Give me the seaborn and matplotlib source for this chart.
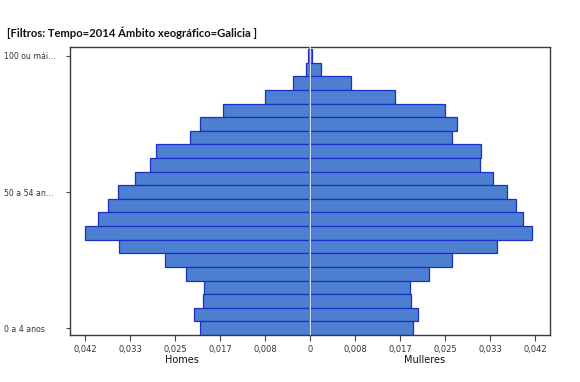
import matplotlib
matplotlib.use("Agg")
import matplotlib.pyplot as plt
import seaborn as sns
import pandas as pd
import numpy as np

sns.set_theme(style="white")
plt.rcParams['font.family'] = ['DejaVu Sans']

# Age groups (top to bottom)
ages = ["100 ou máis", "95 a 99 anos", "90 a 94 anos", "85 a 89 anos", "80 a 84 anos",
        "75 a 79 anos", "70 a 74 anos", "65 a 69 anos", "60 a 64 anos", "55 a 59 anos",
        "50 a 54 anos", "45 a 49 anos", "40 a 44 anos", "35 a 39 anos", "30 a 34 anos",
        "25 a 29 anos", "20 a 24 anos", "15 a 19 anos", "10 a 14 anos", "5 a 9 anos",
        "0 a 4 anos"]
homes = [0.0003, 0.0007, 0.0031, 0.0083, 0.0162, 0.0203, 0.0222, 0.0286, 0.0296, 0.0325,
         0.0355, 0.0375, 0.0392, 0.0416, 0.0353, 0.0268, 0.0229, 0.0196, 0.0199, 0.0214,
         0.0203]
mulleres = [0.0004, 0.0021, 0.0075, 0.0157, 0.0250, 0.0272, 0.0263, 0.0316, 0.0314, 0.0338,
            0.0364, 0.0381, 0.0394, 0.0411, 0.0346, 0.0263, 0.0220, 0.0185, 0.0187, 0.0200,
            0.0190]
shown_labels = {"100 ou máis": "100 ou mái...", "50 a 54 anos": "50 a 54 an...",
                "0 a 4 anos": "0 a 4 anos"}
tick_vals = [5/120, 4/120, 3/120, 2/120, 1/120, 0]
tick_text = ["0,042", "0,033", "0,025", "0,017", "0,008", "0"]
right_text = ["0,008", "0,017", "0,025", "0,033", "0,042"]
title = "[Filtros: Tempo=2014 Ámbito xeográfico=Galicia ]"

df = pd.DataFrame({"idade": ages, "Homes": homes, "Mulleres": mulleres})
df["Homes_neg"] = -df["Homes"]

fig = plt.figure(figsize=(5.8, 3.82), dpi=100)
ax = fig.add_axes([70/580, 1-335/382, 480/580, 288/382])

fill = "#4d80d1"
edge = "#1c2fc4"
sns.barplot(data=df, x="Homes_neg", y="idade", order=ages, orient="h", color=fill,
            edgecolor=edge, linewidth=0.9, width=1.0, saturation=1, ax=ax)
sns.barplot(data=df, x="Mulleres", y="idade", order=ages, orient="h", color=fill,
            edgecolor=edge, linewidth=0.9, width=1.0, saturation=1, ax=ax)

ax.axvline(0, color="white", lw=1.2, zorder=5)
ax.axvline(-0.00012, color="#5a6a8a", lw=0.6, zorder=5)

ax.set_xlim(-240/5400, 240/5400)
ax.set_ylim(20.5, -0.65)

xt = [-v for v in tick_vals] + [v for v in tick_vals[-2::-1]]
xl = tick_text + right_text
ax.set_xticks(xt)
ax.set_xticklabels(xl, fontsize=6, color="#333333")

pos = [ages.index(k) for k in shown_labels]
ax.set_yticks(pos)
ax.set_yticklabels(list(shown_labels.values()), fontsize=5.6, color="#333333", ha="left")
ax.tick_params(axis="y", length=3, width=0.8, color="#444444", pad=44.5, left=True)
ax.tick_params(axis="x", length=4, width=0.8, color="#444444", pad=3, bottom=True)
ax.set_xlabel("")
ax.set_ylabel("")
for s in ax.spines.values():
    s.set_color("#3a3a3a")
    s.set_linewidth(1.0)
    s.set_visible(True)

fig.text(182/580, 1-360/382, "Homes", ha="center", va="center", fontsize=7, color="#111111")
fig.text(425/580, 1-360/382, "Mulleres", ha="center", va="center", fontsize=7, color="#111111")
fig.text(7/580, 1-33/382, title, ha="left", va="center", fontsize=8.1, color="#111111",
         fontweight="bold", family=["Lato", "DejaVu Sans"])

fig.savefig("out.png", dpi=100)
